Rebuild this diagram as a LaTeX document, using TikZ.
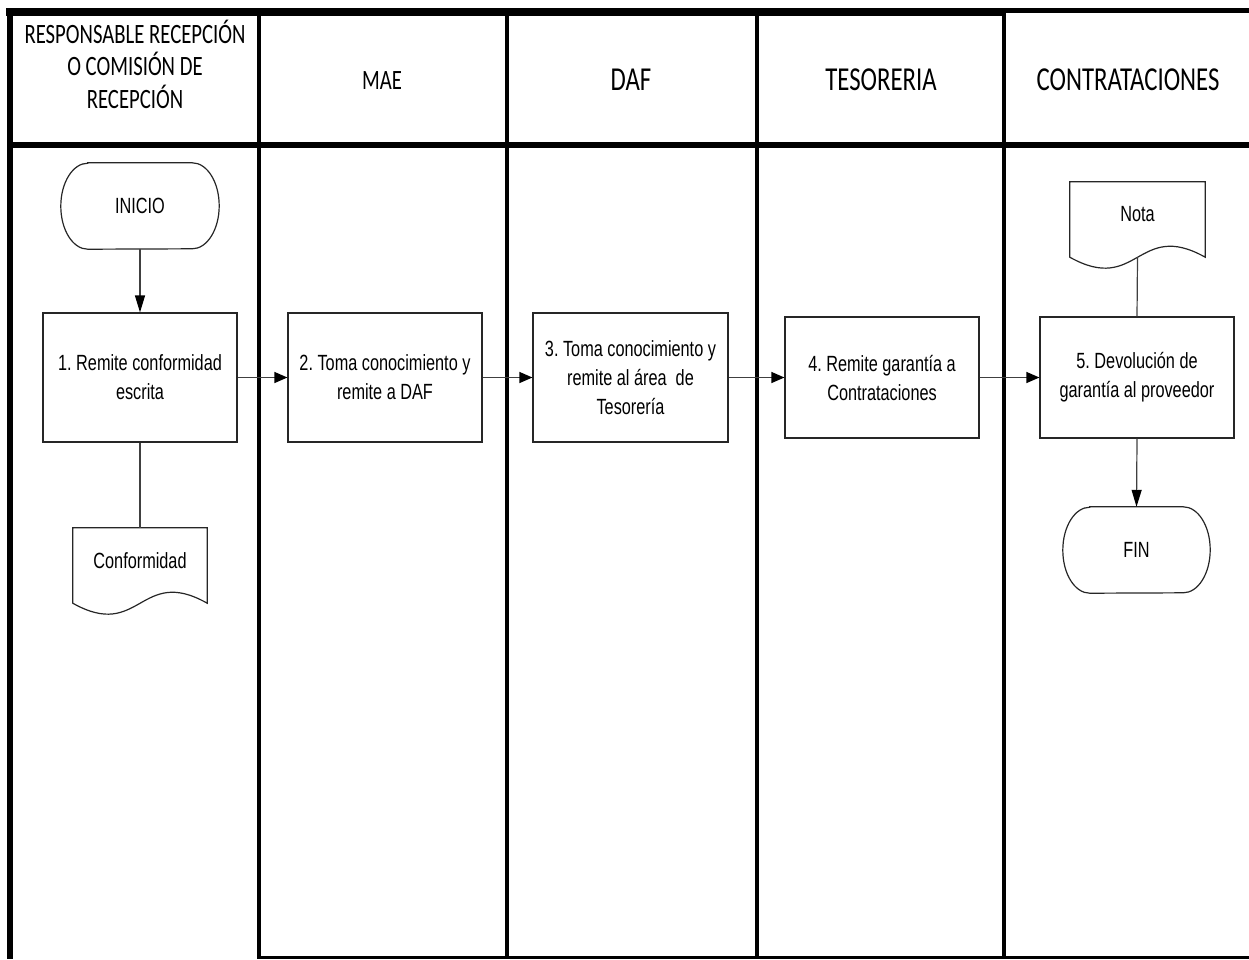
\documentclass[tikz,border=0pt]{standalone}
\usepackage{fontspec}
\setmainfont{Liberation Sans}
\newfontfamily\bodyf[FakeStretch=0.74]{Liberation Sans}
\newfontfamily\headf[FakeStretch=0.74]{Carlito}
\usetikzlibrary{arrows.meta}
\frenchspacing
\begin{document}
\begin{tikzpicture}[x=1pt,y=-1pt,
  bodyfont/.style={font=\bodyf\fontsize{22}{29}\selectfont},
  hsmall/.style={inner sep=0pt,align=center,font=\headf\fontsize{28}{32.5}\selectfont},
  hbig/.style={inner sep=0pt,align=center,font=\headf\fontsize{33.5}{38}\selectfont},
  procbox/.style={draw=black!85,line width=1.2pt,minimum width=194pt,minimum height=129pt,inner sep=0pt,align=center,bodyfont},
  docnode/.style={minimum width=134pt,minimum height=65pt,inner sep=0pt,align=center,bodyfont},
  termnode/.style={minimum width=158pt,minimum height=86pt,inner sep=0pt,align=center,bodyfont},
  outline/.style={draw=black!85,line width=1.2pt},
  conn/.style={draw=black!75,line width=1.2pt},
  harrow/.style={-{Triangle[length=13pt,width=11pt,color=black]}},
  varrow/.style={-{Triangle[length=17pt,width=10pt,color=black]}},
  lanerule/.style={line width=4.5pt}
]
\useasboundingbox (0,0) rectangle (1249,959);
% frame
\draw[line width=8pt] (6,12) -- (1006,12);
\draw[line width=5pt] (1004,10.5) -- (1249,10.5);
\draw[line width=6pt] (10,8) -- (10,959);
\foreach \x in {259,507,757,1004} \draw[lanerule] (\x,12) -- (\x,959);
\draw[line width=6pt] (7,145) -- (1249,145);
\draw[line width=3pt] (257,957.5) -- (1249,957.5);
% headers
\node[hsmall] (h1) at (135,64) {RESPONSABLE RECEPCIÓN\\O COMISIÓN DE\\RECEPCIÓN};
\node[hsmall] (h2) at (382,81) {MAE};
\node[hbig] (h3) at (631,80) {DAF};
\node[hbig] (h4) at (881,80) {TESORERIA};
\node[hbig] (h5) at (1128,80) {CONTRATACIONES};
% terminators
\node[termnode] (ini) at (140,206) {INICIO};
\draw[outline] ([xshift=27pt]ini.north west) -- ([xshift=-27pt]ini.north east)
  arc[start angle=90,end angle=-90,x radius=27pt,y radius=43pt]
  -- ([xshift=27pt]ini.south west)
  arc[start angle=270,end angle=90,x radius=27pt,y radius=43pt] -- cycle;
\node[termnode,minimum width=147pt] (fin) at (1136.5,550) {FIN};
\draw[outline] ([xshift=27pt]fin.north west) -- ([xshift=-27pt]fin.north east)
  arc[start angle=90,end angle=-90,x radius=27pt,y radius=43pt]
  -- ([xshift=27pt]fin.south west)
  arc[start angle=270,end angle=90,x radius=27pt,y radius=43pt] -- cycle;
% process boxes
\node[procbox] (b1) at (140,377.5) {1. Remite conformidad\\escrita};
\node[procbox] (b2) at (385,377.5) {2. Toma conocimiento y\\remite a DAF};
\node[procbox,minimum width=195pt] (b3) at (630.5,377.5) {3. Toma conocimiento y\\remite al área\ \ de\\Tesorería};
\node[procbox,minimum height=121pt] (b4) at (882,377.5) {4. Remite garantía a\\Contrataciones};
\node[procbox,minimum height=121pt] (b5) at (1137,377.5) {5. Devolución de\\garantía al proveedor};
% documents
\node[docnode] (conf) at (140,560.5) {Conformidad};
\draw[outline] (conf.north west) -- (conf.north east) -- ([yshift=-10pt]conf.south east)
  .. controls ([xshift=-67pt,yshift=28pt]conf.south east) and ([xshift=-67pt,yshift=-48pt]conf.south east) .. ([yshift=-10pt]conf.south west) -- cycle;
\node[docnode,minimum width=135pt] (nota) at (1137.5,214.5) {Nota};
\draw[outline] (nota.north west) -- (nota.north east) -- ([yshift=-10pt]nota.south east)
  .. controls ([xshift=-67.5pt,yshift=28pt]nota.south east) and ([xshift=-67.5pt,yshift=-48pt]nota.south east) .. ([yshift=-10pt]nota.south west) -- cycle;
% connectors
\draw[conn,varrow] (ini.south) -- (b1.north);
\draw[conn] (b1.south) -- (conf.north);
\draw[conn,harrow] (b1.east) -- (b2.west);
\draw[conn,harrow] (b2.east) -- (b3.west);
\draw[conn,harrow] (b3.east) -- (b4.west);
\draw[conn,harrow] (b4.east) -- (b5.west);
\draw[conn] ([yshift=-10pt]nota.south) -- (b5.north);
\draw[conn,varrow] (b5.south) -- (fin.north);
\end{tikzpicture}
\end{document}
